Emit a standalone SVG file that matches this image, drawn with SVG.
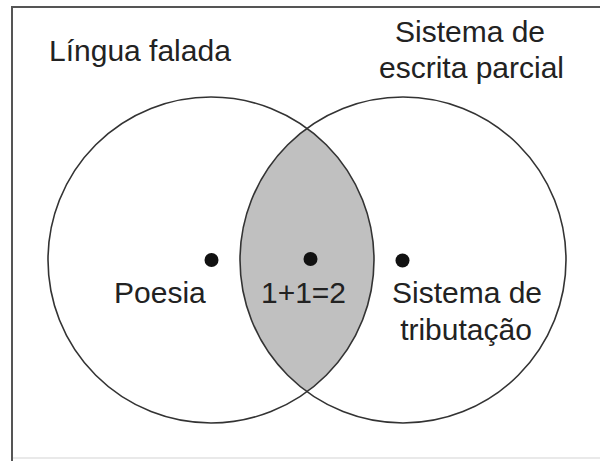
<svg xmlns="http://www.w3.org/2000/svg" width="600" height="461" viewBox="0 0 600 461">
<style>
.c{fill:none;stroke:#333;stroke-width:1.6}
.lens{fill:#c0c0c0;stroke:none}
.dot{fill:#111}
text{font-family:"Liberation Sans",Arial,sans-serif;font-size:30px;fill:#222}
</style>
<rect width="600" height="461" fill="#fff"/>
<g id="frame">
<path d="M12,461 V7 H600" fill="none" stroke="#555" stroke-width="2"/>
<path d="M13,458 H600" fill="none" stroke="#e2e2e2" stroke-width="1.5"/>
</g>
<g id="intersection">
<path class="lens" d="M307,128.3 A163,163 0 0,1 307,391.7 A163,163 0 0,1 307,128.3 Z"/>
<circle class="dot" cx="310.5" cy="259" r="7"/>
<text x="303.5" y="302.5" text-anchor="middle">1+1=2</text>
</g>
<g id="lingua-falada">
<circle class="c" cx="211" cy="260" r="163"/>
<circle class="dot" cx="211.5" cy="260" r="7"/>
<text x="49" y="61">Língua falada</text>
</g>
<g id="escrita-parcial">
<circle class="c" cx="403" cy="260" r="163"/>
<circle class="dot" cx="402.5" cy="260.5" r="7"/>
<text x="470" y="42" text-anchor="middle">Sistema de</text>
<text x="471.5" y="77.5" text-anchor="middle">escrita parcial</text>
</g>
<g id="poesia">
<text x="114" y="302.5">Poesia</text>
</g>
<g id="tributacao">
<text x="467" y="303" text-anchor="middle">Sistema de</text>
<text x="466" y="340" text-anchor="middle">tributação</text>
</g>
</svg>
